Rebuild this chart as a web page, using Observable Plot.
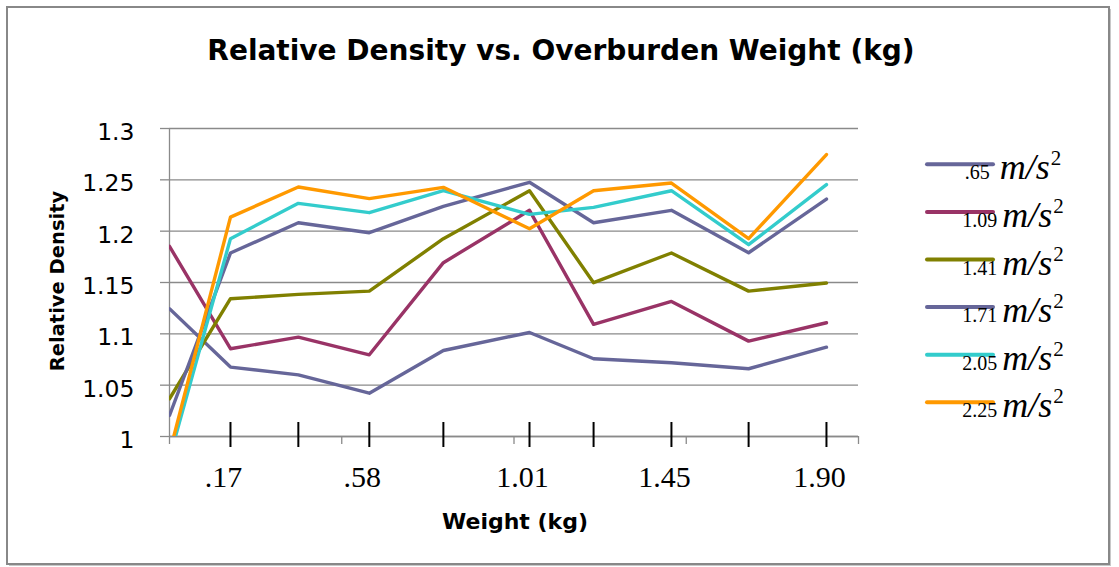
<!DOCTYPE html>
<html><head><meta charset="utf-8">
<script src="https://cdn.jsdelivr.net/npm/d3@7"></script>
<script src="https://cdn.jsdelivr.net/npm/@observablehq/plot@0.6"></script>
<style>
body{margin:0;background:#fff;}
#chart{position:relative;width:1119px;height:567px;}
</style>
</head><body><div id="chart"></div>
<script>
// x values (overburden weight, kg) of the measured points
const weights = [0, 0.177, 0.374, 0.58, 0.795, 1.045, 1.231, 1.457, 1.681, 1.907];
// series: acceleration labels, colours and values (relative density)
const seriesNames = [".65", "1.09", "1.41", "1.71", "2.05", "2.25"];
const seriesColors = ["#666699", "#993366", "#808000", "#666699", "#33CCCC", "#FF9900"];
const d065 = [1.1245, 1.0676, 1.0600, 1.0422, 1.0838, 1.1013, 1.0757, 1.0718, 1.0660, 1.0870];
const d109 = [1.1852, 1.0855, 1.0968, 1.0796, 1.1693, 1.2203, 1.1092, 1.1316, 1.0929, 1.1108];
const d141 = [1.0367, 1.1342, 1.1384, 1.1416, 1.1927, 1.2394, 1.1498, 1.1787, 1.1416, 1.1495];
const d171 = [1.0205, 1.1787, 1.2082, 1.1985, 1.2242, 1.2476, 1.2082, 1.2203, 1.1790, 1.2313];
const d205 = [0.979, 1.1927, 1.2271, 1.2180, 1.2394, 1.2164, 1.2232, 1.2394, 1.1868, 1.2453];
const d225 = [0.984, 1.2137, 1.2430, 1.2317, 1.2427, 1.2024, 1.2394, 1.2469, 1.1927, 1.2746];
const seriesValues = [d065, d109, d141, d171, d205, d225];
// axis ticks
const xTickLabels = [".17", ".58", "1.01", "1.45", "1.90"];
const xTickLabelAt = [1, 3, 5, 7, 9]; // index into weights
const xMinorTicks = [0, 0.5, 1, 1.5, 2];
const yTicks = [1, 1.05, 1.1, 1.15, 1.2, 1.25, 1.3];

const rows = [];
seriesValues.forEach((vals, si) => vals.forEach((v, i) => rows.push({w: weights[i], v, s: si})));
const labelRows = xTickLabels.map((t, i) => ({w: weights[xTickLabelAt[i]], t}));

const gray = "#8a8a8a";
const chart = Plot.plot({
  width: 1119, height: 567,
  marginLeft: 169, marginRight: 261, marginTop: 128, marginBottom: 131,
  style: {background: "transparent", fontFamily: "DejaVu Sans"},
  x: {domain: [0, 2]},
  y: {domain: [1, 1.3]},
  color: {type: "ordinal", domain: d3.range(seriesNames.length), range: seriesColors},
  marks: [
    Plot.gridY(yTicks, {stroke: gray, strokeOpacity: 1, strokeWidth: 1.3}),
    Plot.ruleX([0], {stroke: gray, strokeWidth: 1.3}),
    Plot.ruleY([1], {stroke: gray, strokeWidth: 1.3}),
    Plot.axisY(yTicks, {tickSize: 9, stroke: gray, strokeWidth: 1.3, tickFormat: () => "", label: null}),
    Plot.axisY(yTicks, {tickSize: 0, tickPadding: 26, dx: -9, dy: 4, fill: "#000", fontSize: 23.5, fontFamily: "DejaVu Sans",
      tickFormat: d => String(+d.toFixed(2)), label: null}),
    Plot.axisX(xMinorTicks, {tickSize: 8, stroke: gray, strokeWidth: 1.3, tickFormat: () => "", label: null}),
    Plot.line(rows, {x: "w", y: "v", z: "s", stroke: "s", strokeWidth: 3.4, strokeLinejoin: "round", clip: true}),
    Plot.ruleX(weights.slice(1), {stroke: "#000", strokeWidth: 2, insetTop: 294, insetBottom: -11}),
    Plot.text(labelRows, {x: "w", y: () => 1, text: "t", dy: 50, dx: -7, lineAnchor: "bottom",
      fontFamily: "Liberation Serif", fontSize: 30, fill: "#000"})
  ]
});
document.getElementById("chart").appendChild(chart);

const svg = d3.select(chart);
// outer border with a light shadow on the right and bottom
svg.append("path").attr("d", "M1110,9V565H9").attr("fill", "none").attr("stroke", "#c8c8c8").attr("stroke-width", 2);
svg.append("rect").attr("x", 7).attr("y", 7).attr("width", 1102).attr("height", 557)
  .attr("fill", "none").attr("stroke", "#888").attr("stroke-width", 2);
// title
svg.append("text").attr("x", 561).attr("y", 60).attr("text-anchor", "middle")
  .attr("font-family", "DejaVu Sans").attr("font-weight", "bold").attr("font-size", 28).attr("fill", "#000")
  .text("Relative Density vs. Overburden Weight (kg)");
// axis titles
svg.append("text").attr("x", 515).attr("y", 529).attr("text-anchor", "middle")
  .attr("font-family", "DejaVu Sans").attr("font-weight", "bold").attr("font-size", 22).attr("fill", "#000")
  .text("Weight (kg)");
svg.append("text").attr("transform", "translate(57,281) rotate(-90)").attr("text-anchor", "middle").attr("dy", "0.36em")
  .attr("font-family", "DejaVu Sans").attr("font-weight", "bold").attr("font-size", 19.5).attr("fill", "#000")
  .text("Relative Density");
// legend
const lg = svg.append("g");
seriesNames.forEach((name, i) => {
  const y = 164.3 + i * 47.6;
  lg.append("line").attr("x1", 927).attr("x2", 993).attr("y1", y).attr("y2", y)
    .attr("stroke", seriesColors[i]).attr("stroke-width", 4).attr("stroke-linecap", "round");
  const t = lg.append("text").attr("x", 1013).attr("y", y + 15)
    .attr("font-family", "Liberation Serif").attr("fill", "#000");
  t.append("tspan").attr("font-size", 20).text(name);
  t.append("tspan").attr("dx", name.length < 4 ? 10 : 5).attr("font-size", 36).attr("font-style", "italic").text("m/s");
  t.append("tspan").attr("font-size", 21).attr("dy", -14).attr("dx", 1).text("2");
});
</script>
</body></html>
